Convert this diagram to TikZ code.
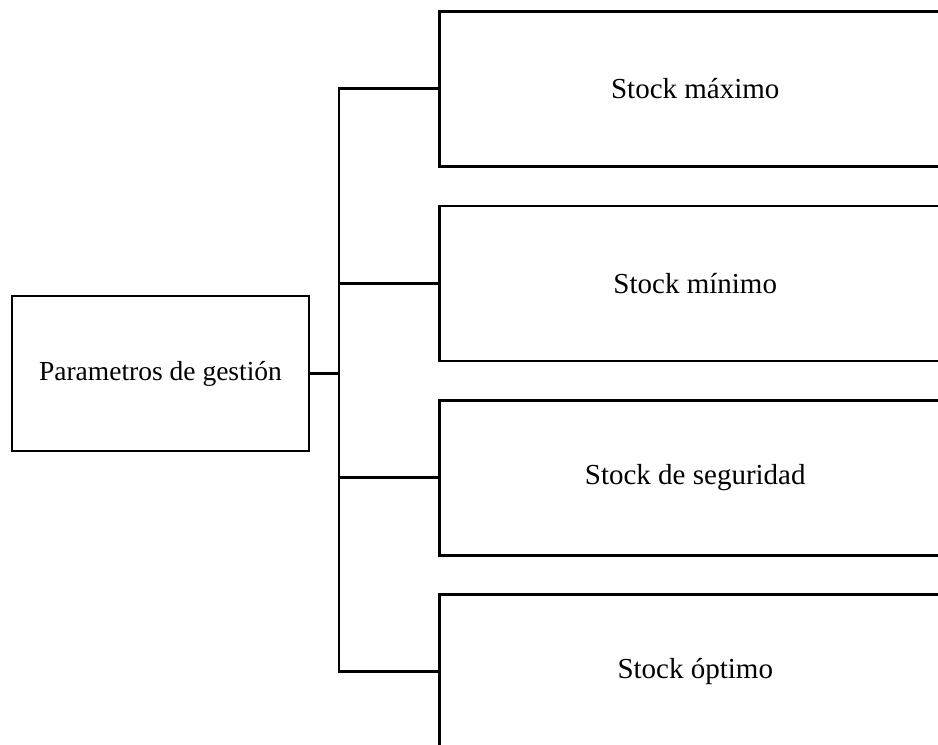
\documentclass[tikz,border=0pt]{standalone}
\usepackage{fontspec}
\setmainfont{Liberation Serif}
\begin{document}
\begin{tikzpicture}[x=1pt,y=-1pt,
  lbox/.style={draw=black,line width=2.5pt,minimum width=297pt,minimum height=155pt,inner sep=0pt,font=\fontsize{27.5}{33}\selectfont},
  rbox/.style={draw=black,line width=2.5pt,minimum width=512pt,minimum height=155pt,inner sep=0pt,anchor=north west,font=\fontsize{29}{35}\selectfont},
  conn/.style={draw=black,line width=2.8pt}]
\useasboundingbox (0,0) rectangle (938,745);
\clip (0,0) rectangle (938,745);
\node[lbox] (pg) at (160.5,373.5) {Parametros de gestión};
\node[rbox] (b1) at (438,10) {Stock máximo};
\node[rbox] (b2) at (438,204.5) {Stock mínimo};
\node[rbox] (b3) at (438,399) {Stock de seguridad};
\node[rbox] (b4) at (438,593) {Stock óptimo};
\coordinate (j) at (339,373.5);
\draw[conn] (pg.east) -- (j);
\draw[conn] (b1.west) -| (j) |- (b4.west);
\draw[conn] (b2.west) -- (b2.west -| j);
\draw[conn] (b3.west) -- (b3.west -| j);
\end{tikzpicture}
\end{document}
